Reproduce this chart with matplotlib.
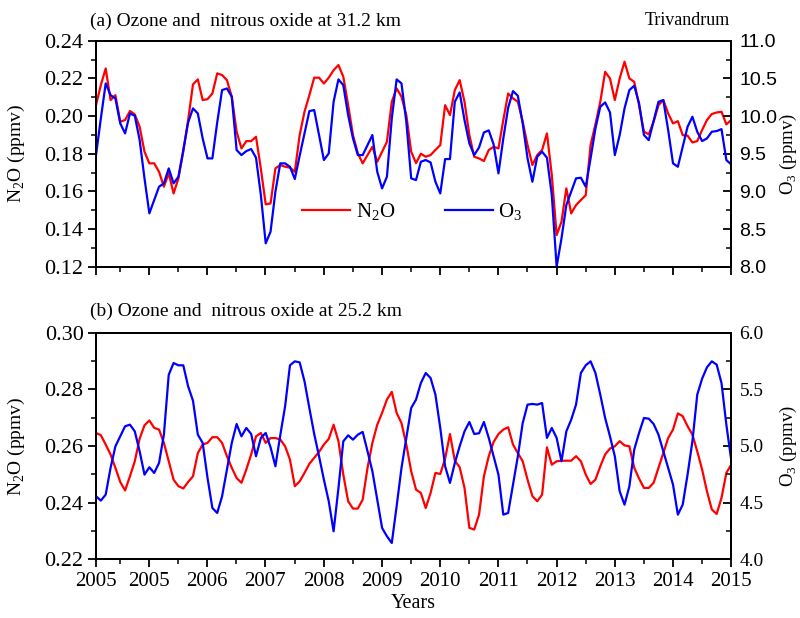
import numpy as np
import matplotlib
matplotlib.use("Agg")
import matplotlib.pyplot as plt
from matplotlib.ticker import MultipleLocator, FixedLocator

plt.rcParams['font.family'] = ['Liberation Serif', 'DejaVu Serif']
plt.rcParams['mathtext.fontset'] = 'custom'
plt.rcParams['mathtext.rm'] = 'Liberation Serif'

# ---------------- data (monthly) ----------------
n2o_31 = [0.2058, 0.2165, 0.2253, 0.2085, 0.2111, 0.1970, 0.1979, 0.2027, 0.2009, 0.1943,
          0.1811, 0.1749, 0.1749, 0.1704, 0.1625, 0.1696, 0.1589, 0.1669, 0.1811, 0.1979,
          0.2168, 0.2195, 0.2085, 0.2090, 0.2120, 0.2227, 0.2218, 0.2191, 0.2103, 0.1917,
          0.1828, 0.1867, 0.1867, 0.1890, 0.1720, 0.1531, 0.1536, 0.1722, 0.1740, 0.1731,
          0.1726, 0.1704, 0.1899, 0.2023, 0.2111, 0.2204, 0.2204, 0.2173, 0.2204, 0.2244,
          0.2271, 0.2209, 0.2058, 0.1899, 0.1802, 0.1749, 0.1793, 0.1837, 0.1757, 0.1811,
          0.1864, 0.2076, 0.2147, 0.2103, 0.2005, 0.1811, 0.1750, 0.1800, 0.1784, 0.1793,
          0.1820, 0.1846, 0.2058, 0.2005, 0.2138, 0.2191, 0.2076, 0.1899, 0.1784, 0.1775,
          0.1761, 0.1820, 0.1837, 0.1828, 0.1979, 0.2120, 0.2094, 0.2076, 0.1970, 0.1846,
          0.1740, 0.1793, 0.1820, 0.1908, 0.1687, 0.1368, 0.1439, 0.1616, 0.1483, 0.1527,
          0.1554, 0.1580, 0.1846, 0.1956, 0.2076, 0.2235, 0.2200, 0.2085, 0.2200, 0.2289,
          0.2200, 0.2182, 0.2058, 0.1917, 0.1903, 0.1970, 0.2058, 0.2085, 0.2014, 0.1961,
          0.1973, 0.1899, 0.1896, 0.1860, 0.1867, 0.1926, 0.1979, 0.2011, 0.2019, 0.2023,
          0.1956, 0.1979]

o3_31 = [9.482, 9.969, 10.434, 10.279, 10.234, 9.903, 9.770, 10.035, 10.004, 9.681,
         9.173, 8.708, 8.885, 9.062, 9.106, 9.305, 9.106, 9.195, 9.549, 9.916,
         10.102, 10.035, 9.703, 9.438, 9.438, 9.916, 10.345, 10.367, 10.257, 9.549,
         9.482, 9.535, 9.562, 9.447, 8.951, 8.310, 8.465, 8.995, 9.372, 9.372,
         9.327, 9.164, 9.473, 9.770, 10.066, 10.080, 9.748, 9.416, 9.504, 10.190,
         10.487, 10.411, 10.013, 9.703, 9.482, 9.482, 9.615, 9.748, 9.261, 9.040,
         9.195, 9.969, 10.487, 10.434, 9.925, 9.173, 9.150, 9.394, 9.416, 9.385,
         9.128, 8.973, 9.429, 9.429, 10.190, 10.314, 9.947, 9.637, 9.482, 9.584,
         9.783, 9.810, 9.624, 9.239, 9.703, 10.111, 10.332, 10.270, 9.903, 9.438,
         9.128, 9.460, 9.527, 9.447, 8.951, 8.000, 8.376, 8.818, 8.995, 9.173,
         9.181, 9.062, 9.438, 9.836, 10.124, 10.181, 10.049, 9.482, 9.748, 10.102,
         10.345, 10.403, 10.168, 9.748, 9.681, 9.934, 10.190, 10.212, 9.814, 9.372,
         9.327, 9.593, 9.858, 9.991, 9.792, 9.668, 9.703, 9.792, 9.801, 9.827,
         9.416, 9.358]

n2o_25 = [0.2646, 0.2638, 0.2605, 0.2570, 0.2523, 0.2473, 0.2443, 0.2493, 0.2546, 0.2626,
          0.2673, 0.2690, 0.2664, 0.2658, 0.2611, 0.2546, 0.2481, 0.2458, 0.2450, 0.2473,
          0.2493, 0.2575, 0.2605, 0.2611, 0.2631, 0.2631, 0.2611, 0.2564, 0.2523, 0.2487,
          0.2470, 0.2517, 0.2570, 0.2634, 0.2646, 0.2611, 0.2628, 0.2628, 0.2623, 0.2599,
          0.2552, 0.2458, 0.2475, 0.2505, 0.2537, 0.2558, 0.2579, 0.2605, 0.2625, 0.2675,
          0.2617, 0.2499, 0.2405, 0.2379, 0.2379, 0.2411, 0.2523, 0.2611, 0.2675, 0.2717,
          0.2764, 0.2791, 0.2717, 0.2681, 0.2605, 0.2511, 0.2446, 0.2434, 0.2381, 0.2434,
          0.2505, 0.2501, 0.2555, 0.2642, 0.2548, 0.2525, 0.2452, 0.2311, 0.2305, 0.2358,
          0.2493, 0.2564, 0.2614, 0.2642, 0.2658, 0.2666, 0.2605, 0.2575, 0.2546, 0.2481,
          0.2423, 0.2405, 0.2428, 0.2595, 0.2534, 0.2546, 0.2548, 0.2548, 0.2548, 0.2564,
          0.2546, 0.2499, 0.2466, 0.2481, 0.2528, 0.2570, 0.2591, 0.2599, 0.2617, 0.2602,
          0.2599, 0.2523, 0.2485, 0.2452, 0.2452, 0.2470, 0.2523, 0.2575, 0.2628, 0.2658,
          0.2715, 0.2705, 0.2670, 0.2640, 0.2581, 0.2517, 0.2440, 0.2376, 0.2360, 0.2417,
          0.2505, 0.2534]

o3_25 = [4.556, 4.518, 4.571, 4.806, 4.997, 5.085, 5.174, 5.188, 5.129, 4.953,
         4.747, 4.812, 4.762, 4.850, 5.100, 5.629, 5.732, 5.712, 5.712, 5.526,
         5.400, 5.100, 5.027, 4.718, 4.453, 4.409, 4.556, 4.791, 5.027, 5.194,
         5.085, 5.159, 5.106, 4.909, 5.071, 5.115, 4.988, 4.821, 5.094, 5.350,
         5.712, 5.747, 5.738, 5.571, 5.335, 5.106, 4.909, 4.703, 4.512, 4.247,
         4.629, 5.041, 5.094, 5.056, 5.100, 5.124, 4.953, 4.777, 4.527, 4.277,
         4.203, 4.144, 4.468, 4.806, 5.071, 5.335, 5.409, 5.556, 5.644, 5.600,
         5.453, 5.159, 4.821, 4.674, 4.850, 4.997, 5.129, 5.212, 5.106, 5.112,
         5.212, 5.071, 4.909, 4.747, 4.394, 4.409, 4.659, 4.909, 5.203, 5.365,
         5.371, 5.365, 5.379, 5.071, 5.159, 5.071, 4.865, 5.129, 5.232, 5.365,
         5.644, 5.712, 5.747, 5.644, 5.453, 5.247, 5.085, 4.909, 4.600, 4.482,
         4.644, 4.968, 5.115, 5.247, 5.241, 5.194, 5.100, 4.953, 4.806, 4.659,
         4.394, 4.482, 4.747, 5.041, 5.453, 5.594, 5.694, 5.747, 5.718, 5.556,
         5.188, 4.879]

tick_labels = ['2005', '2005', '2006', '2007', '2008', '2009', '2010',
               '2011', '2012', '2013', '2014', '2015']
x_start, x_end = 2004.09, 2015.0
tick_pos = [x_start] + list(range(2005, 2016))
x = np.linspace(x_start, x_end, len(n2o_31))

RED = '#ff0000'
BLUE = '#0000ff'

fig = plt.figure(figsize=(8.0, 6.18), dpi=100)


def style_axes(ax, ax2, show_xlabels, right_font):
    ax.set_xlim(x_start, x_end)
    ax.xaxis.set_major_locator(FixedLocator(tick_pos))
    ax.xaxis.set_minor_locator(FixedLocator([p + 0.5 for p in range(2004, 2015)]))
    if show_xlabels:
        ax.set_xticklabels(tick_labels, fontsize=15)
    else:
        ax.set_xticklabels([])
    ax.tick_params(axis='x', which='major', direction='out', length=6, width=1.3,
                   top=False)
    ax.tick_params(axis='x', which='minor', direction='out', length=3.5, width=1.1,
                   top=False)
    ax.tick_params(axis='y', which='major', direction='out', length=6, width=1.3,
                   labelsize=16, pad=3)
    ax.tick_params(axis='y', which='minor', direction='out', length=3.5, width=1.1)
    ax2.tick_params(axis='y', which='major', direction='in', length=6, width=1.3,
                    labelsize=14, pad=6)
    ax2.tick_params(axis='y', which='minor', direction='in', length=3.5, width=1.1)
    for lab in ax2.get_yticklabels():
        lab.set_family(right_font)
    for a in (ax, ax2):
        for s in a.spines.values():
            s.set_linewidth(1.4)


# ---------------- panel (a) ----------------
axa = fig.add_axes([0.12, 0.5685, 0.794, 0.3655])
axa2 = axa.twinx()
l1, = axa.plot(x, n2o_31, color=RED, lw=1.6, label='N$_\\mathrm{2}$O')
l2, = axa2.plot(x, o3_31, color=BLUE, lw=1.6, label='O$_\\mathrm{3}$')
axa.set_ylim(0.12, 0.24)
axa.set_yticks(np.arange(0.12, 0.2401, 0.02))
axa.set_yticklabels([f'{v:.2f}' for v in np.arange(0.12, 0.2401, 0.02)])
axa.yaxis.set_minor_locator(MultipleLocator(0.01))
axa2.set_ylim(8.0, 11.0)
axa2.set_yticks(np.arange(8.0, 11.01, 0.5))
axa2.set_yticklabels([f'{v:.1f}' for v in np.arange(8.0, 11.01, 0.5)])
axa2.yaxis.set_minor_locator(MultipleLocator(0.25))
style_axes(axa, axa2, False, ['Liberation Sans', 'DejaVu Sans'])
axa.set_ylabel('N$_\\mathrm{2}$O (ppmv)', fontsize=14)
axa.yaxis.set_label_coords(-0.108, 0.5)
axa2.set_ylabel('O$_\\mathrm{3}$ (ppmv)', fontsize=13.5, rotation=90)
axa2.yaxis.set_label_coords(1.074, 0.5)
axa.text(-0.009, 1.066, '(a) Ozone and  nitrous oxide at 31.2 km', transform=axa.transAxes,
         fontsize=14, ha='left', va='baseline')
axa.text(0.998, 1.07, 'Trivandrum', transform=axa.transAxes,
         fontsize=13, ha='right', va='baseline')
axa2.legend(handles=[l1, l2], loc='center', bbox_to_anchor=(0.498, 0.24), ncol=2,
            frameon=False, fontsize=15, handlelength=2.3, columnspacing=2.4,
            handletextpad=0.25)

# ---------------- panel (b) ----------------
axb = fig.add_axes([0.12, 0.095, 0.794, 0.3667])
axb2 = axb.twinx()
axb.plot(x, n2o_25, color=RED, lw=1.6)
axb2.plot(x, o3_25, color=BLUE, lw=1.6)
axb.set_ylim(0.22, 0.30)
axb.set_yticks(np.arange(0.22, 0.3001, 0.02))
axb.set_yticklabels([f'{v:.2f}' for v in np.arange(0.22, 0.3001, 0.02)])
axb.yaxis.set_minor_locator(MultipleLocator(0.01))
axb2.set_ylim(4.0, 6.0)
axb2.set_yticks(np.arange(4.0, 6.01, 0.5))
axb2.set_yticklabels([f'{v:.1f}' for v in np.arange(4.0, 6.01, 0.5)])
axb2.yaxis.set_minor_locator(MultipleLocator(0.25))
style_axes(axb, axb2, True, ['Liberation Serif', 'DejaVu Serif'])
axb.set_ylabel('N$_\\mathrm{2}$O (ppmv)', fontsize=14)
axb.yaxis.set_label_coords(-0.108, 0.5)
axb2.set_ylabel('O$_\\mathrm{3}$ (ppmv)', fontsize=13.5, rotation=90)
axb2.yaxis.set_label_coords(1.074, 0.5)
axb.set_xlabel('Years', fontsize=14.5, labelpad=2)
axb.text(-0.009, 1.074, '(b) Ozone and  nitrous oxide at 25.2 km', transform=axb.transAxes,
         fontsize=14, ha='left', va='baseline')

fig.savefig('out.png', dpi=100)
